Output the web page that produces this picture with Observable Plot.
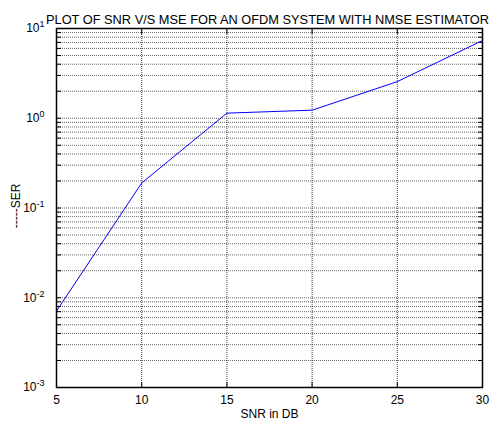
<!DOCTYPE html>
<html>
<head>
<meta charset="utf-8">
<script src="https://cdn.jsdelivr.net/npm/d3@7"></script>
<script src="https://cdn.jsdelivr.net/npm/@observablehq/plot@0.6"></script>
<style>
  html, body { margin: 0; padding: 0; background: #fff; }
</style>
</head>
<body>
<div id="chart"></div>
<script>
const snr = [5, 10, 15, 20, 25, 30];
const ser = [0.0071, 0.19, 1.14, 1.23, 2.56, 7.35];
const xTicks = [5, 10, 15, 20, 25, 30];
const yTicks = [1e-3, 1e-2, 1e-1, 1, 10];
const yExponents = ["-3", "-2", "-1", "0", "1"];
const titleText = "PLOT OF SNR V/S MSE FOR AN OFDM SYSTEM WITH NMSE ESTIMATOR";
const xLabel = "SNR in DB";
const yLabel = "-----SER";

const data = snr.map((s, i) => ({snr: s, ser: ser[i]}));
const font = "'Liberation Sans', Arial, Helvetica, sans-serif";

const chart = Plot.plot({
  width: 492,
  height: 425,
  marginLeft: 56,
  marginRight: 10,
  marginTop: 28,
  marginBottom: 38,
  style: {fontFamily: font, fontSize: "12px", background: "#fff", color: "#000"},
  x: {domain: [5, 30]},
  y: {type: "log", domain: [1e-3, 10]},
  marks: [
    Plot.gridY({stroke: "#000", strokeOpacity: 0.6, strokeDasharray: "1,1"}),
    Plot.gridX(xTicks, {stroke: "#000", strokeOpacity: 0.75, strokeDasharray: "1,1"}),
    Plot.axisY({anchor: "left", tickSize: -5, tickFormat: () => "", label: null}),
    Plot.axisY({anchor: "right", tickSize: -5, tickFormat: () => "", label: null}),
    Plot.axisX(xTicks, {anchor: "top", tickSize: -5, tickFormat: () => "", label: null}),
    Plot.axisX(xTicks, {anchor: "bottom", tickSize: -5, tickPadding: 13, label: null, fontSize: 12}),
    Plot.axisY(yTicks, {anchor: "left", tickSize: 0, tickPadding: 12, label: null, fontSize: 12,
      tickFormat: () => "10"}),
    Plot.line(data, {x: "snr", y: "ser", stroke: "#0000ff", strokeWidth: 1}),
    Plot.frame({stroke: "#000", strokeWidth: 1.5}),
    Plot.text([titleText], {frameAnchor: "top", dy: -14, dx: -2, fontSize: 12.8, fill: "#000"}),
    Plot.text([xLabel], {frameAnchor: "bottom", dy: 30, fontSize: 12, fill: "#000"}),
    Plot.text([yLabel], {frameAnchor: "left", textAnchor: "middle", dx: -40, dy: -2, rotate: -90, fontSize: 12, fill: "#000"})
  ]
});

document.getElementById("chart").appendChild(chart);

// Remove empty tick labels, then add superscript exponents to the labelled y ticks
const svg = d3.select(chart);
svg.selectAll("g[aria-label$='tick label'] text").filter(function() {
  return this.textContent === "";
}).remove();
svg.selectAll("g[aria-label='y-axis tick label'] text").filter(function() {
  return this.textContent === "10";
}).each(function(d, i) {
  const t = d3.select(this);
  t.text(null);
  t.append("tspan").text("10");
  t.append("tspan").attr("dy", "-0.55em").attr("font-size", "9px").text(yExponents[i]);
});
</script>
</body>
</html>
